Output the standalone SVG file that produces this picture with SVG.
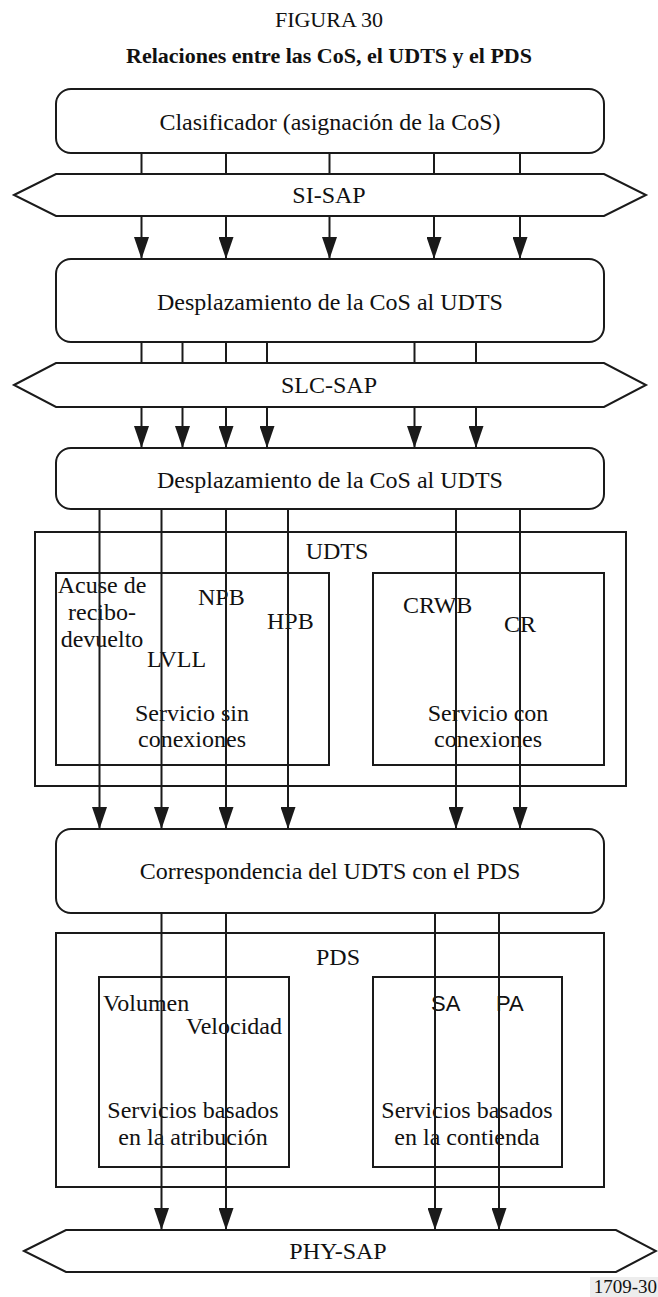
<svg xmlns="http://www.w3.org/2000/svg" width="658" height="1297" viewBox="0 0 658 1297">
<style>
.bg{fill:#fff}
.box{fill:#fff;stroke:#1a1a1a;stroke-width:2}
.frame{fill:none;stroke:#1a1a1a;stroke-width:2}
.t{font-family:"Liberation Serif","Times New Roman",serif;font-size:24px;fill:#111}
.c{text-anchor:middle}
.s{font-family:"Liberation Sans",Arial,sans-serif;font-size:22px;fill:#111}
.ln{stroke:#1a1a1a;stroke-width:2;fill:none}
.ar{stroke:#1a1a1a;stroke-width:2;fill:none;marker-end:url(#ah)}
</style>
<defs>
<marker id="ah" viewBox="0 0 22 15" refX="22" refY="7.5" markerWidth="22" markerHeight="15" markerUnits="userSpaceOnUse" orient="auto">
<path d="M0,0 L22,7.5 L0,15 Z" fill="#1a1a1a"/>
</marker>
</defs>
<rect class="bg" x="0" y="0" width="658" height="1297"/>

<g id="title">
<text class="c" x="329" y="27" style="font-family:'Liberation Serif','Times New Roman',serif;font-size:22px;fill:#111">FIGURA 30</text>
<text class="c" x="329" y="63" style="font-family:'Liberation Serif','Times New Roman',serif;font-size:22px;font-weight:bold;fill:#111">Relaciones entre las CoS, el UDTS y el PDS</text>
</g>

<g id="clasificador">
<rect class="box" x="56" y="89" width="548" height="64" rx="15"/>
<text class="t c" x="330" y="130">Clasificador (asignación de la CoS)</text>
</g>

<g id="si-sap">
<polygon class="box" points="14,195 56,174 604,174 646,195 604,216 56,216"/>
<text class="t c" x="329" y="203">SI-SAP</text>
</g>

<g id="desplazamiento1">
<rect class="box" x="56" y="259" width="548" height="83" rx="15"/>
<text class="t c" x="330" y="310">Desplazamiento de la CoS al UDTS</text>
</g>

<g id="slc-sap">
<polygon class="box" points="14,385 56,363 604,363 646,385 604,407 56,407"/>
<text class="t c" x="329" y="393">SLC-SAP</text>
</g>

<g id="desplazamiento2">
<rect class="box" x="56" y="448" width="548" height="61" rx="15"/>
<text class="t c" x="330" y="488">Desplazamiento de la CoS al UDTS</text>
</g>

<g id="udts">
<rect class="frame" x="35" y="532" width="591" height="254"/>
<text class="t c" x="337" y="559">UDTS</text>
</g>

<g id="sin-conexiones">
<rect class="frame" x="56" y="573" width="273" height="192"/>
<text class="t c" x="102" y="593">Acuse de</text>
<text class="t c" x="102" y="620">recibo-</text>
<text class="t c" x="102" y="647">devuelto</text>
<text class="t" x="198" y="605">NPB</text>
<text class="t" x="267" y="629">HPB</text>
<text class="t" x="147" y="667">LVLL</text>
<text class="t c" x="192" y="721">Servicio sin</text>
<text class="t c" x="192" y="747">conexiones</text>
</g>

<g id="con-conexiones">
<rect class="frame" x="373" y="573" width="231" height="192"/>
<text class="t" x="403" y="613">CRWB</text>
<text class="t" x="504" y="632">CR</text>
<text class="t c" x="488" y="721">Servicio con</text>
<text class="t c" x="488" y="747">conexiones</text>
</g>

<g id="correspondencia">
<rect class="box" x="56" y="829" width="548" height="84" rx="15"/>
<text class="t c" x="330" y="879">Correspondencia del UDTS con el PDS</text>
</g>

<g id="pds">
<rect class="frame" x="56" y="933" width="548" height="254"/>
<text class="t c" x="338" y="965">PDS</text>
</g>

<g id="atribucion">
<rect class="frame" x="99" y="977" width="190" height="190"/>
<text class="t" x="103" y="1011">Volumen</text>
<text class="t" x="186" y="1034">Velocidad</text>
<text class="t c" x="193" y="1118">Servicios basados</text>
<text class="t c" x="193" y="1145">en la atribución</text>
</g>

<g id="contienda">
<rect class="frame" x="373" y="977" width="189" height="190"/>
<text class="s" x="431" y="1011">SA</text>
<text class="s" x="496" y="1011">PA</text>
<text class="t c" x="467" y="1118">Servicios basados</text>
<text class="t c" x="467" y="1145">en la contienda</text>
</g>

<g id="phy-sap">
<polygon class="box" points="24,1251 66,1230 616,1230 656,1251 616,1272 66,1272"/>
<text class="t c" x="338" y="1259">PHY-SAP</text>
</g>

<g id="ref">
<rect x="590" y="1277" width="68" height="20" fill="#ededed"/>
<text x="657" y="1293" style="font-family:'Liberation Serif','Times New Roman',serif;font-size:19px;fill:#111;text-anchor:end">1709-30</text>
</g>

<g id="connectors">
<line class="ln" x1="141.5" y1="153" x2="141.5" y2="174"/>
<line class="ln" x1="226" y1="153" x2="226" y2="174"/>
<line class="ln" x1="329.5" y1="153" x2="329.5" y2="174"/>
<line class="ln" x1="434" y1="153" x2="434" y2="174"/>
<line class="ln" x1="520" y1="153" x2="520" y2="174"/>

<line class="ar" x1="141.5" y1="216" x2="141.5" y2="259"/>
<line class="ar" x1="226" y1="216" x2="226" y2="259"/>
<line class="ar" x1="329.5" y1="216" x2="329.5" y2="259"/>
<line class="ar" x1="434" y1="216" x2="434" y2="259"/>
<line class="ar" x1="520" y1="216" x2="520" y2="259"/>

<line class="ln" x1="141.5" y1="342" x2="141.5" y2="363"/>
<line class="ln" x1="182.5" y1="342" x2="182.5" y2="363"/>
<line class="ln" x1="226" y1="342" x2="226" y2="363"/>
<line class="ln" x1="267" y1="342" x2="267" y2="363"/>
<line class="ln" x1="414.5" y1="342" x2="414.5" y2="363"/>
<line class="ln" x1="476" y1="342" x2="476" y2="363"/>

<line class="ar" x1="141.5" y1="407" x2="141.5" y2="448"/>
<line class="ar" x1="182.5" y1="407" x2="182.5" y2="448"/>
<line class="ar" x1="226" y1="407" x2="226" y2="448"/>
<line class="ar" x1="267" y1="407" x2="267" y2="448"/>
<line class="ar" x1="414.5" y1="407" x2="414.5" y2="448"/>
<line class="ar" x1="476" y1="407" x2="476" y2="448"/>

<line class="ar" x1="99.5" y1="509" x2="99.5" y2="829"/>
<line class="ar" x1="161.5" y1="509" x2="161.5" y2="829"/>
<line class="ar" x1="226" y1="509" x2="226" y2="829"/>
<line class="ar" x1="288" y1="509" x2="288" y2="829"/>
<line class="ar" x1="456" y1="509" x2="456" y2="829"/>
<line class="ar" x1="520" y1="509" x2="520" y2="829"/>

<line class="ar" x1="161.5" y1="913" x2="161.5" y2="1230"/>
<line class="ar" x1="226" y1="913" x2="226" y2="1230"/>
<line class="ar" x1="435" y1="913" x2="435" y2="1230"/>
<line class="ar" x1="499" y1="913" x2="499" y2="1230"/>
</g>
</svg>
